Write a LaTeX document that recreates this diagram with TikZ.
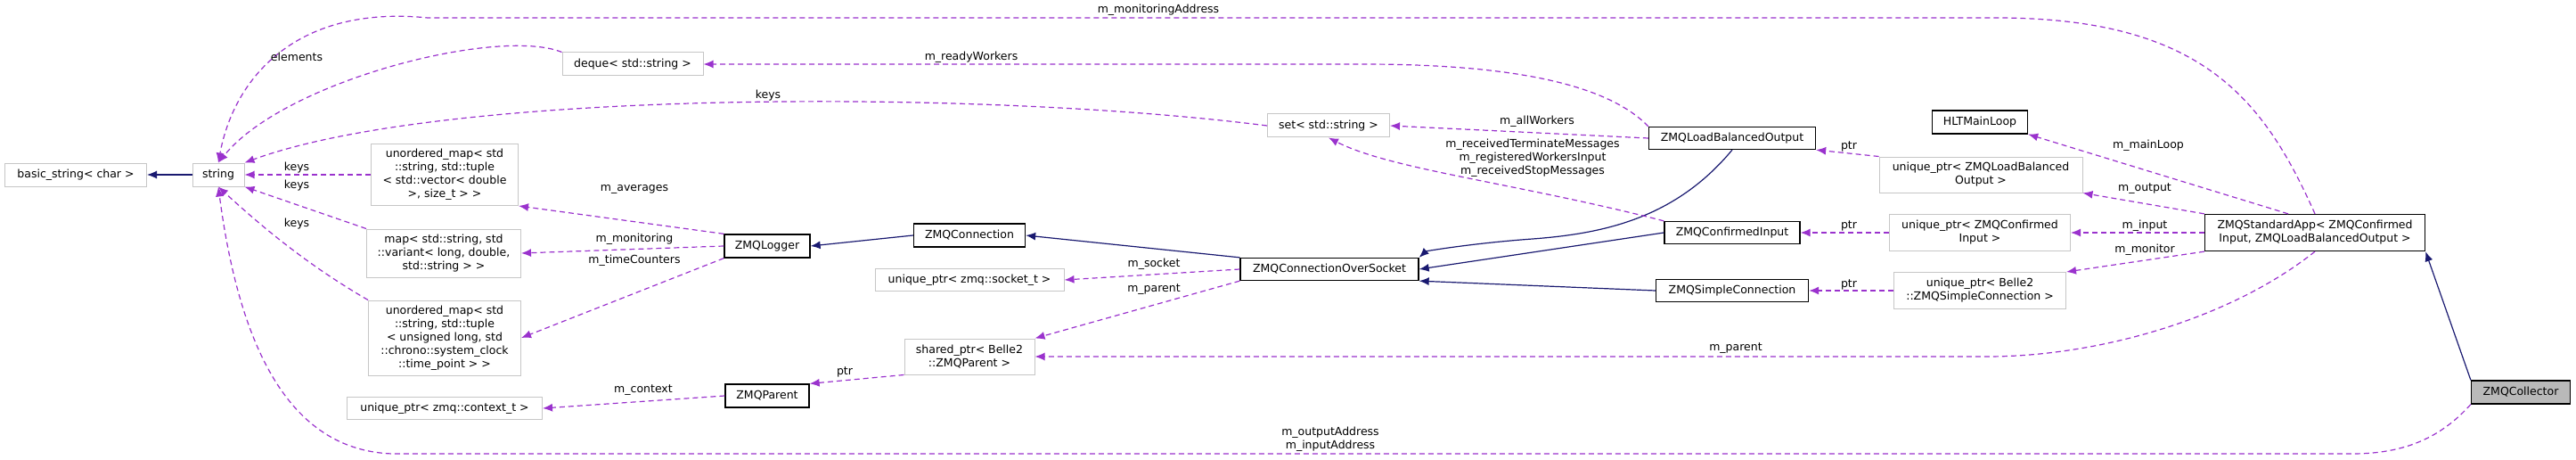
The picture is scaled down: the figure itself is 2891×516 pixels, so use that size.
\documentclass[tikz,border=0pt]{standalone}
\usepackage{fontspec}
\setmainfont{DejaVu Sans}
\usetikzlibrary{arrows.meta}
\definecolor{usec}{HTML}{9A32CD}
\definecolor{inhc}{HTML}{191970}
\begin{document}
\begin{tikzpicture}[x=1pt,y=-1pt,
  font=\fontsize{12.5}{15}\selectfont,
  cls/.style={draw=black,line width=1.3pt,inner sep=0pt,align=center,fill=white},
  ext/.style={draw=gray!45,line width=1pt,inner sep=0pt,align=center,fill=white},
  use/.style={draw=usec,dashed,dash pattern=on 6pt off 4pt,line width=1.2pt,-{Latex[length=11pt,width=9pt]}},
  inh/.style={draw=inhc,line width=1.2pt,-{Latex[length=11pt,width=9pt]}},
  lab/.style={inner sep=1pt,align=center}]
\useasboundingbox (0,0) rectangle (2891,516);
% nodes
\node[ext,minimum width=159pt,minimum height=26pt] (bs) at (85,196) {basic\_string< char >};
\node[ext,minimum width=58pt,minimum height=26pt] (str) at (245,196) {string};
\node[ext,minimum width=158pt,minimum height=26pt] (dq) at (710,72) {deque< std::string >};
\node[ext,minimum width=165pt,minimum height=69pt] (um1) at (499,196) {unordered\_map< std\\::string, std::tuple\\< std::vector< double\\>, size\_t > >};
\node[ext,minimum width=173pt,minimum height=54pt] (mp) at (498,284) {map< std::string, std\\::variant< long, double,\\std::string > >};
\node[ext,minimum width=171pt,minimum height=84pt] (um2) at (499,379) {unordered\_map< std\\::string, std::tuple\\< unsigned long, std\\::chrono::system\_clock\\::time\_point > >};
\node[ext,minimum width=219pt,minimum height=25pt] (uctx) at (499,458) {unique\_ptr< zmq::context\_t >};
\node[cls,minimum width=96pt,minimum height=26pt] (log) at (861,276) {ZMQLogger};
\node[cls,minimum width=94pt,minimum height=26pt] (par) at (861,444) {ZMQParent};
\node[cls,minimum width=125pt,minimum height=26pt] (con) at (1088,264) {ZMQConnection};
\node[ext,minimum width=212pt,minimum height=25pt] (sock) at (1088,314) {unique\_ptr< zmq::socket\_t >};
\node[ext,minimum width=146pt,minimum height=40pt] (shp) at (1088,400) {shared\_ptr< Belle2\\::ZMQParent >};
\node[ext,minimum width=137pt,minimum height=26pt] (set) at (1491,141) {set< std::string >};
\node[cls,minimum width=200pt,minimum height=25pt] (cos) at (1492,302) {ZMQConnectionOverSocket};
\node[cls,minimum width=187pt,minimum height=25pt] (lbo) at (1944,155) {ZMQLoadBalancedOutput};
\node[cls,minimum width=152pt,minimum height=25pt] (ci) at (1944,261) {ZMQConfirmedInput};
\node[cls,minimum width=171pt,minimum height=25pt] (sc) at (1944,326) {ZMQSimpleConnection};
\node[cls,minimum width=107pt,minimum height=26pt] (hlt) at (2222,137) {HLTMainLoop};
\node[ext,minimum width=228pt,minimum height=40pt] (ulb) at (2223,196) {unique\_ptr< ZMQLoadBalanced\\Output >};
\node[ext,minimum width=203pt,minimum height=41pt] (uci) at (2222,261) {unique\_ptr< ZMQConfirmed\\Input >};
\node[ext,minimum width=193pt,minimum height=41pt] (usc) at (2222,326) {unique\_ptr< Belle2\\::ZMQSimpleConnection >};
\node[cls,minimum width=247pt,minimum height=41pt] (sa) at (2598,261) {ZMQStandardApp< ZMQConfirmed\\Input, ZMQLoadBalancedOutput >};
\node[cls,fill=gray!55,minimum width=111pt,minimum height=26pt] (col) at (2829,440) {ZMQCollector};
% inheritance
\draw[inh] (str.west) -- (bs.east);
\draw[inh] (con.west) -- (log.east);
\draw[inh] (cos.north west) -- (con.east);
\draw[inh] (lbo.south) .. controls (1880,245) and (1800,262) .. (1720,268) .. controls (1650,273) and (1600,282) .. (cos.north east);
\draw[inh] (ci.west) -- (cos.east);
\draw[inh] (sc.west) -- (cos.south east);
\draw[inh] (col.north west) -- (sa.south east);
% usage
\draw[use] (sa.north) .. controls (2540,110) and (2470,20) .. (2240,20) -- (480,20) .. controls (330,5) and (262,90) .. (str.north);
\draw[use] (dq.north west) .. controls (560,30) and (320,90) .. (str.north);
\draw[use] (set.west) .. controls (1100,100) and (500,100) .. (str.north east);
\draw[use] (um1.west) -- (str.east);
\draw[use] (mp.north west) -- (str.south east);
\draw[use] (um2.north west) .. controls (350,300) and (300,260) .. (str.south);
\draw[use] (col.south west) .. controls (2740,490) and (2700,509) .. (2640,509) -- (440,509) .. controls (330,505) and (270,400) .. (str.south);
\draw[use] (lbo.north west) .. controls (1800,90) and (1680,72) .. (1530,72) -- (dq.east);
\draw[use] (lbo.west) -- (set.east);
\draw[use] (ci.north west) .. controls (1700,205) and (1560,190) .. (set.south);
\draw[use] (log.north west) -- (um1.south east);
\draw[use] (log.west) -- (mp.east);
\draw[use] (log.south west) -- (um2.east);
\draw[use] (par.west) -- (uctx.east);
\draw[use] (shp.south west) -- (par.north east);
\draw[use] (cos.west) -- (sock.east);
\draw[use] (cos.south west) -- (shp.north east);
\draw[use] (sa.south) .. controls (2500,360) and (2350,400) .. (2230,400) -- (shp.east);
\draw[use] (ulb.north west) -- (lbo.south east);
\draw[use] (sa.north) ++(-30,0) coordinate (sam) -- (hlt.south east);
\draw[use] (sa.north west) -- (ulb.south east);
\draw[use] (uci.west) -- (ci.east);
\draw[use] (sa.west) -- (uci.east);
\draw[use] (sa.south west) -- (usc.north east);
\draw[use] (usc.west) -- (sc.east);
% labels
\node[lab] (l1) at (1300,11) {m\_monitoringAddress};
\node[lab] (l2) at (333,64) {elements};
\node[lab] (l3) at (862,107) {keys};
\node[lab] (l4) at (333,188) {keys};
\node[lab] (l5) at (333,208) {keys};
\node[lab] (l6) at (333,251) {keys};
\node[lab] (l7) at (1493,493) {m\_outputAddress\\m\_inputAddress};
\node[lab] (l8) at (1090,64) {m\_readyWorkers};
\node[lab] (l9) at (1725,136) {m\_allWorkers};
\node[lab] (l10) at (1720,177) {m\_receivedTerminateMessages\\m\_registeredWorkersInput\\m\_receivedStopMessages};
\node[lab] (l11) at (712,212) {m\_averages};
\node[lab] (l12) at (712,268) {m\_monitoring};
\node[lab] (l13) at (712,292) {m\_timeCounters};
\node[lab] (l14) at (722,438) {m\_context};
\node[lab] (l15) at (948,417) {ptr};
\node[lab] (l16) at (1295,296) {m\_socket};
\node[lab] (l17) at (1295,325) {m\_parent};
\node[lab] (l18) at (1948,391) {m\_parent};
\node[lab] (l19) at (2075,164) {ptr};
\node[lab] (l20) at (2411,163) {m\_mainLoop};
\node[lab] (l21) at (2407,212) {m\_output};
\node[lab] (l22) at (2075,253) {ptr};
\node[lab] (l23) at (2407,253) {m\_input};
\node[lab] (l24) at (2407,280) {m\_monitor};
\node[lab] (l25) at (2075,319) {ptr};
\end{tikzpicture}
\end{document}
